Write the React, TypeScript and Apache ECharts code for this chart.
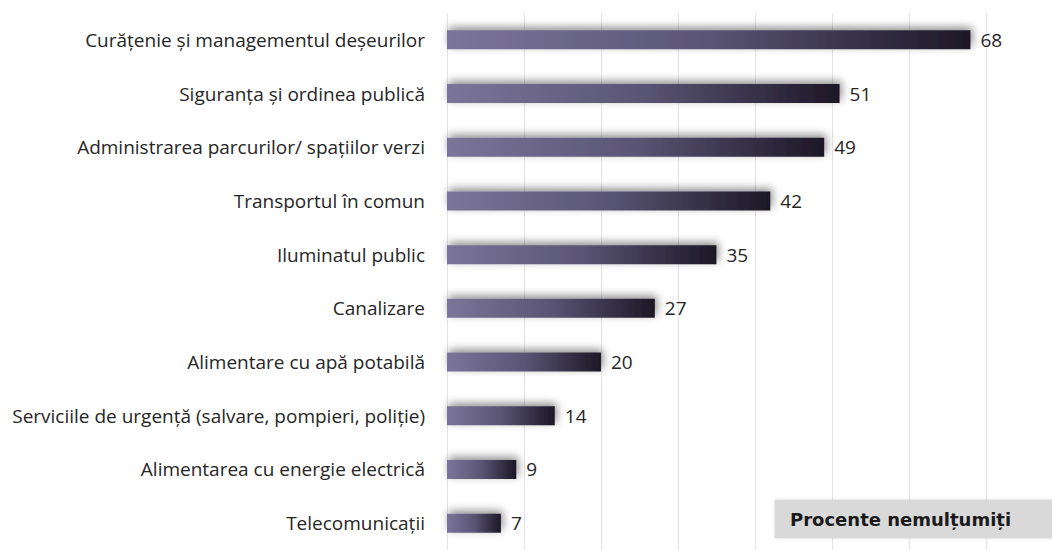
import React, { useEffect, useRef } from "react";
import * as echarts from "echarts";

const categories = [
  "Curățenie și managementul deșeurilor",
  "Siguranța și ordinea publică",
  "Administrarea parcurilor/ spațiilor verzi",
  "Transportul în comun",
  "Iluminatul public",
  "Canalizare",
  "Alimentare cu apă potabilă",
  "Serviciile de urgență (salvare, pompieri, poliție)",
  "Alimentarea cu energie electrică",
  "Telecomunicații",
];
const values = [68, 51, 49, 42, 35, 27, 20, 14, 9, 7];
const legendText = "Procente nemulțumiți";

export default function App() {
  const ref = useRef<HTMLDivElement>(null);
  useEffect(() => {
    if (!ref.current) return;
    const chart = echarts.init(ref.current, null, { renderer: "svg" });
    chart.setOption({
      animation: false,
      backgroundColor: "#ffffff",
      grid: { left: 447, right: 20, top: 13, bottom: -6, containLabel: false },
      xAxis: {
        type: "value",
        min: 0,
        max: 76,
        interval: 10,
        axisLabel: { show: false },
        axisLine: { show: false },
        axisTick: { show: false },
        splitLine: { show: true, showMaxLine: false, lineStyle: { color: "#e3e3e8", width: 1 } },
      },
      yAxis: {
        type: "category",
        inverse: true,
        data: categories,
        axisLine: { show: false },
        axisTick: { show: false },
        axisLabel: {
          color: "#262626",
          fontSize: 19,
          fontFamily: "Open Sans",
          margin: 22,
        },
      },
      series: [
        {
          type: "bar",
          data: values,
          barWidth: 19,
          itemStyle: {
            color: new echarts.graphic.LinearGradient(0, 0, 1, 0, [
              { offset: 0, color: "#7b7599" },
              { offset: 0.5, color: "#5a5575" },
              { offset: 1, color: "#1c1826" },
            ]),
            shadowColor: "rgba(0,0,0,0.45)",
            shadowBlur: 8,
            shadowOffsetX: 2,
            shadowOffsetY: -3,
          },
          label: {
            show: true,
            position: "right",
            distance: 10,
            color: "#262626",
            fontSize: 19,
            fontFamily: "Open Sans",
          },
        },
      ],
      graphic: [
        {
          type: "rect",
          shape: { x: 775, y: 500, width: 290, height: 38 },
          style: { fill: "#d9d9d9", shadowColor: "rgba(0,0,0,0.2)", shadowBlur: 3 },
          z: 10,
        },
        {
          type: "text",
          x: 790,
          y: 519,
          z: 11,
          style: {
            text: legendText,
            fill: "#1a1a1a",
            font: "bold 18px 'DejaVu Sans'",
            verticalAlign: "middle",
          },
        },
      ],
    });
    return () => chart.dispose();
  }, []);
  return (
    <div
      ref={ref}
      style={{ position: "fixed", left: 0, top: 0, width: 1052, height: 550 }}
    />
  );
}
